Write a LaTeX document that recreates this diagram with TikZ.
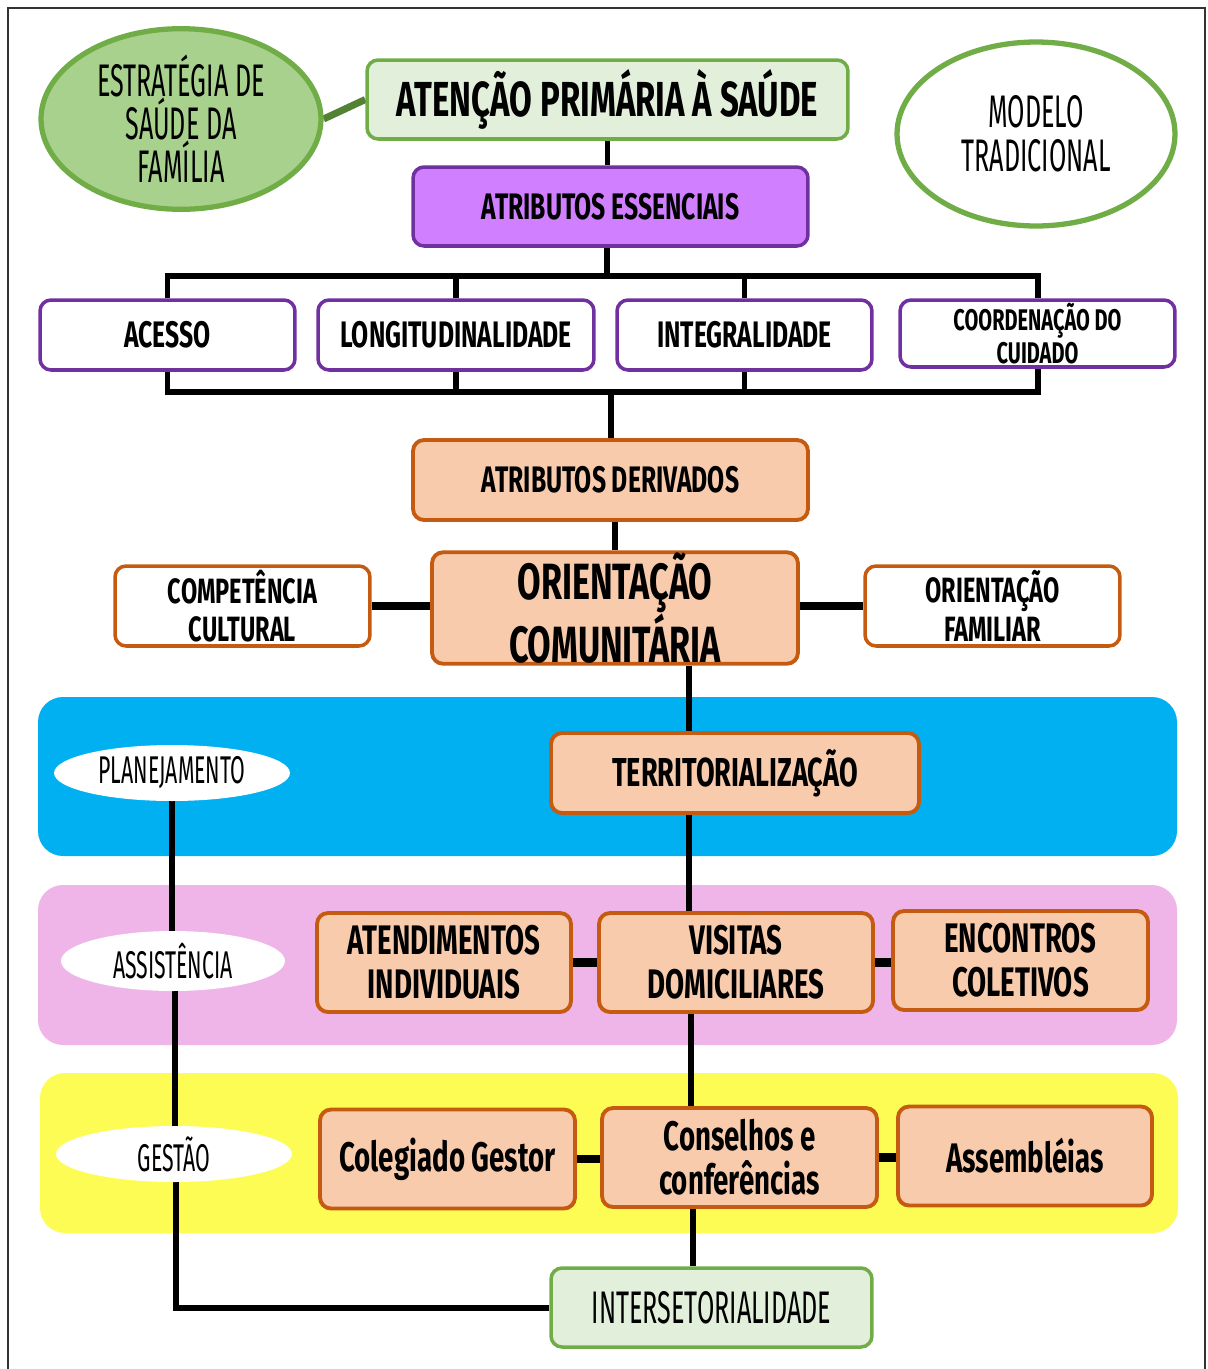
\documentclass[tikz,border=0pt]{standalone}
\usepackage{fontspec}
\setmainfont[FakeStretch=0.67]{Fira Sans}
\newfontfamily\thinfont[FakeStretch=0.55]{Fira Sans}
\usetikzlibrary{shapes.geometric,backgrounds}
\definecolor{palegreen}{HTML}{E2EFDA}
\definecolor{midgreen}{HTML}{A9D18E}
\definecolor{edgegreen}{HTML}{70AD47}
\definecolor{darkgreen}{HTML}{548235}
\definecolor{lilac}{HTML}{D07FFF}
\definecolor{edgepurple}{HTML}{7030A0}
\definecolor{peach}{HTML}{F8CBAD}
\definecolor{edgeorange}{HTML}{C55A11}
\definecolor{bandblue}{HTML}{00B0F0}
\definecolor{bandpink}{HTML}{EFB4E8}
\definecolor{bandyellow}{HTML}{FCFC55}

\begin{document}
\begin{tikzpicture}[x=0.02cm, y=-0.02cm,
    box/.style={draw, rounded corners=0.22cm, line width=2pt, align=center, inner sep=2pt, text=black},
    greenbox/.style={box, fill=palegreen, draw=edgegreen},
    purplebox/.style={box, fill=lilac, draw=edgepurple, font=\bfseries\fontsize{21}{23}\selectfont},
    attrbox/.style={box, fill=white, draw=edgepurple, minimum height=1.4cm, font=\bfseries\fontsize{21}{23}\selectfont},
    orangebox/.style={box, fill=peach, draw=edgeorange, line width=2.2pt},
    whitebox/.style={box, fill=white, draw=edgeorange, minimum width=5.1cm, minimum height=1.6cm, font=\bfseries\fontsize{20}{22}\selectfont},
    actbox/.style={orangebox, minimum height=1.98cm, font=\bfseries\fontsize{23.5}{25}\selectfont},
    oval/.style={ellipse, draw=edgegreen, line width=3pt, align=center, inner sep=0pt},
    tag/.style={ellipse, fill=white, inner sep=0pt, font=\thinfont\fontsize{22}{24}\selectfont},
    band/.style={rounded corners=0.5cm},
    link/.style={line width=3.4pt},
    thicklink/.style={line width=5pt}
]
\useasboundingbox (0,0) rectangle (1207,1369);
\draw[line width=1pt, black!80] (8,1369) -- (8,8) -- (1205,8) -- (1205,1369);

% top
\node[oval, fill=midgreen, minimum width=5.6cm, minimum height=3.48cm, font=\thinfont\fontsize{26}{24.5}\selectfont] (esf) at (181,119) {ESTRATÉGIA DE\\SAÚDE DA\\FAMÍLIA};
\node[greenbox, minimum width=9.62cm, minimum height=1.58cm, font=\bfseries\fontsize{28}{30}\selectfont] (aps) at (607.5,99.5) {ATENÇÃO PRIMÁRIA À SAÚDE};
\node[oval, fill=white, minimum width=5.56cm, minimum height=3.68cm, font=\thinfont\fontsize{26}{25}\selectfont] (modelo) at (1036,134) {MODELO\\TRADICIONAL};
\node[purplebox, minimum width=7.9cm, minimum height=1.58cm] (essenciais) at (610.5,206.5) {ATRIBUTOS ESSENCIAIS};

% atributos essenciais
\node[attrbox, minimum width=5.1cm] (acesso) at (167.5,335) {ACESSO};
\node[attrbox, minimum width=5.52cm] (longitud) at (456,335) {LONGITUDINALIDADE};
\node[attrbox, minimum width=5.1cm] (integral) at (744.5,335) {INTEGRALIDADE};
\node[attrbox, minimum width=5.5cm, minimum height=1.34cm, inner sep=0pt, font=\bfseries\fontsize{17}{18.5}\selectfont] (coord) at (1037.5,333.5) {COORDENAÇÃO DO\\CUIDADO};

% atributos derivados
\node[orangebox, minimum width=7.9cm, minimum height=1.6cm, font=\bfseries\fontsize{21}{23}\selectfont] (derivados) at (610.5,480) {ATRIBUTOS DERIVADOS};
\node[orangebox, minimum width=7.32cm, minimum height=2.2cm, inner sep=0pt, font=\bfseries\fontsize{29}{30}\selectfont] (comunit) at (615,608) {ORIENTAÇÃO\\COMUNITÁRIA};
\node[whitebox] (cultural) at (242.5,606) {COMPETÊNCIA\\CULTURAL};
\node[whitebox] (familiar) at (992.5,606) {ORIENTAÇÃO\\FAMILIAR};

% eixos
\node[orangebox, minimum width=7.36cm, minimum height=1.6cm, font=\bfseries\fontsize{23}{25}\selectfont] (territ) at (735,773) {TERRITORIALIZAÇÃO};
\node[tag, minimum width=4.72cm, minimum height=1.12cm] (planej) at (172,773) {PLANEJAMENTO};
\node[tag, minimum width=4.48cm, minimum height=1.2cm] (assist) at (173,961) {ASSISTÊNCIA};
\node[tag, minimum width=4.72cm, minimum height=1.12cm] (gestao) at (174,1154) {GESTÃO};

\node[actbox, minimum width=5.08cm] (atend) at (444,962.5) {ATENDIMENTOS\\INDIVIDUAIS};
\node[actbox, minimum width=5.48cm] (visitas) at (736,962.5) {VISITAS\\DOMICILIARES};
\node[actbox, minimum width=5.1cm] (encontros) at (1020.5,960.5) {ENCONTROS\\COLETIVOS};

\node[actbox, minimum width=5.1cm] (colegiado) at (447.5,1159) {Colegiado Gestor};
\node[actbox, minimum width=5.5cm] (conselhos) at (739.5,1157.5) {Conselhos e\\conferências};
\node[actbox, minimum width=5.08cm] (assemb) at (1025,1156) {Assembléias};

\node[greenbox, minimum width=6.42cm, minimum height=1.58cm, font=\thinfont\fontsize{26}{28}\selectfont] (interset) at (711.5,1307.5) {INTERSETORIALIDADE};

\begin{pgfonlayer}{background}
% faixas
\fill[band, bandblue] (38,697) rectangle (1177,856);
\fill[band, bandpink] (38,885) rectangle (1177,1045);
\fill[band, bandyellow] (40,1073) rectangle (1178,1233);

% ligacoes
\draw[line width=4pt, darkgreen] (esf.east) -- (aps.west);
\draw[link] (aps.south) -- (aps.south |- essenciais.north);
\coordinate (busup) at (607,276);
\coordinate (buslow) at (611,392);
\draw[link] (essenciais.south -| busup) -- (busup);
\draw[link] (acesso.north) |- (busup) -| (coord.north);
\draw[link] (longitud.north) -- (longitud.north |- busup);
\draw[link] (integral.north) -- (integral.north |- busup);
\draw[link] (acesso.south) |- (buslow) -| (coord.south);
\draw[link] (longitud.south) -- (longitud.south |- buslow);
\draw[link] (integral.south) -- (integral.south |- buslow);
\draw[link] (buslow) -- (buslow |- derivados.north);
\draw[link] (comunit.north |- derivados.south) -- (comunit.north);
\draw[thicklink] (cultural.east) -- (comunit.west |- cultural.east);
\draw[thicklink] (familiar.west) -- (comunit.east |- familiar.west);
\draw[link] ([xshift=1.48cm]comunit.south) -- ([xshift=1.48cm]comunit.south |- territ.north);
\draw[link] ([xshift=-0.92cm]territ.south) -- ([xshift=-0.92cm]territ.south |- visitas.north);
\draw[thicklink] (atend.east) -- (visitas.west);
\draw[thicklink] (visitas.east) -- (visitas.east -| encontros.west);
\draw[link] ([xshift=-0.9cm]visitas.south) -- ([xshift=-0.9cm]visitas.south |- conselhos.north);
\draw[thicklink] (colegiado.east) -- (colegiado.east -| conselhos.west);
\draw[thicklink] (conselhos.east) -- (conselhos.east -| assemb.west);
\draw[link] ([xshift=-0.93cm]conselhos.south) -- ([xshift=-0.93cm]conselhos.south |- interset.north);
\draw[link] (planej.south) -- (planej.south |- assist.north);
\draw[link] ([xshift=0.04cm]assist.south) -- ([xshift=0.04cm]assist.south |- gestao.north);
\draw[link] ([xshift=0.04cm]gestao.south) |- (interset.west);
\end{pgfonlayer}
\end{tikzpicture}
\end{document}
